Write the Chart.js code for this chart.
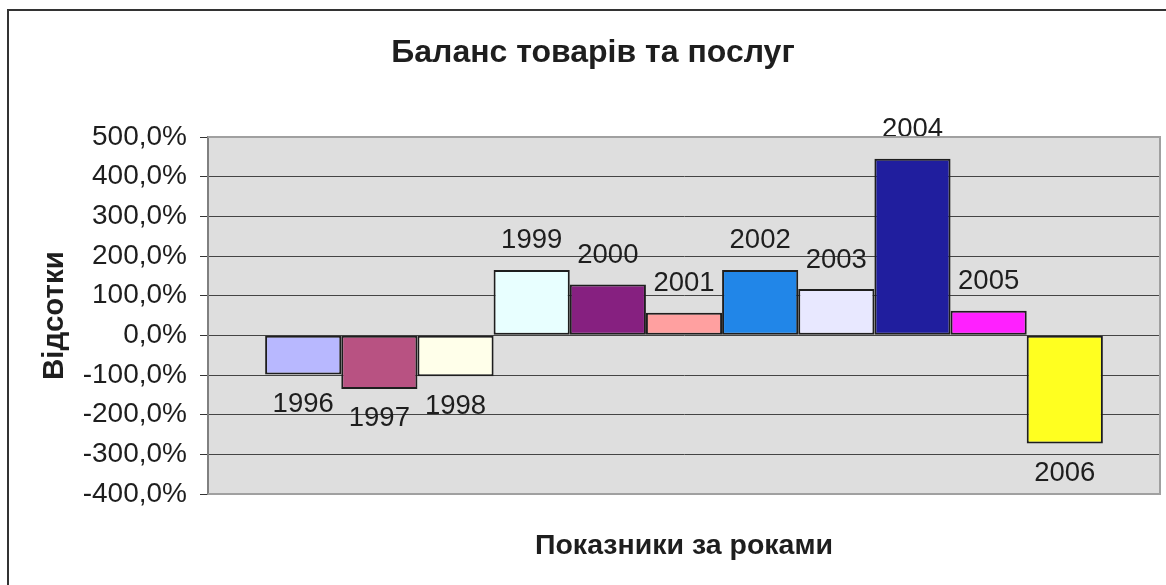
<!DOCTYPE html>
<html>
<head>
<meta charset="utf-8">
<script src="https://cdn.jsdelivr.net/npm/chart.js@4.4.1/dist/chart.umd.min.js"></script>
<style>
  html, body { margin: 0; padding: 0; background: #fff; }
  #wrap { width: 1166px; height: 585px; }
</style>
</head>
<body>
<div id="wrap"><canvas id="chart-balance" width="1166" height="585"></canvas></div>
<script>
// values (percent)
const years = ["1996", "1997", "1998", "1999", "2000", "2001", "2002", "2003", "2004", "2005", "2006"];
const balance = [-99, -135, -103, 165, 128, 57, 165, 117, 445, 62, -273];
const barColors = ["#b8b8ff", "#b85282", "#ffffea", "#e8ffff", "#862080", "#ffa0a0",
                   "#2186e8", "#e8e8ff", "#201e9e", "#ff20ff", "#ffff20"];
const yMin = -400;
const yMax = 500;
const yStep = 100;

const chartTitle = "Баланс товарів та послуг";
const xTitle = "Показники за роками";
const yTitle = "Відсотки";

const FONT = "'Liberation Sans', Arial, sans-serif";

const datasets = years.map((year, i) => ({
    label: year,
    data: [balance[i]],
    backgroundColor: barColors[i],
    borderColor: "#1e1e1e",
    borderWidth: 2,
    borderSkipped: false,
}));

// white page, outer frame, grey plot area, main title
const backdrop = {
    id: "backdrop",
    beforeDraw(chart) {
        const { ctx, chartArea: a } = chart;
        ctx.save();
        ctx.fillStyle = "#ffffff";
        ctx.fillRect(0, 0, chart.width, chart.height);
        ctx.strokeStyle = "#333333";
        ctx.lineWidth = 2;
        ctx.beginPath();
        ctx.moveTo(8, chart.height + 5);
        ctx.lineTo(8, 10);
        ctx.lineTo(chart.width + 5, 10);
        ctx.stroke();
        ctx.fillStyle = "#dedede";
        ctx.fillRect(a.left, a.top, a.right - a.left, a.bottom - a.top);
        ctx.fillStyle = "#1e1e1e";
        ctx.font = "bold 32px " + FONT;
        ctx.textAlign = "center";
        ctx.textBaseline = "middle";
        ctx.fillText(chartTitle, 593, 53);
        ctx.restore();
    },
    afterDraw(chart) {
        const { ctx, chartArea: a } = chart;
        ctx.save();
        ctx.strokeStyle = "#a0a0a0";
        ctx.lineWidth = 2;
        ctx.beginPath();
        ctx.moveTo(a.left, a.top);
        ctx.lineTo(a.right, a.top);
        ctx.lineTo(a.right, a.bottom);
        ctx.lineTo(a.left, a.bottom);
        ctx.stroke();
        ctx.restore();
    },
};

// year written past the end of each bar
const yearLabels = {
    id: "yearLabels",
    afterDatasetsDraw(chart) {
        const { ctx } = chart;
        ctx.save();
        ctx.fillStyle = "#1e1e1e";
        ctx.font = "27.5px " + FONT;
        ctx.textAlign = "center";
        ctx.textBaseline = "middle";
        chart.data.datasets.forEach((ds, i) => {
            const bar = chart.getDatasetMeta(i).data[0];
            const v = ds.data[0];
            const y = v >= 0 ? bar.y - 29 : bar.y + 30;
            ctx.fillText(ds.label, bar.x, y);
        });
        ctx.restore();
    },
};

new Chart(document.getElementById("chart-balance"), {
    type: "bar",
    data: { labels: [""], datasets },
    options: {
        responsive: false,
        animation: false,
        layout: { padding: { top: 137, right: 6, left: 0, bottom: 0 } },
        datasets: { bar: { categoryPercentage: 0.88, barPercentage: 1 } },
        plugins: { legend: { display: false }, tooltip: { enabled: false }, title: { display: false } },
        scales: {
            x: {
                grid: { display: false },
                border: { display: false },
                ticks: { display: false },
                title: {
                    display: true,
                    text: xTitle,
                    color: "#1e1e1e",
                    font: { family: FONT, size: 28.5, weight: "bold" },
                    padding: { top: 0, bottom: 22 },
                },
                afterFit(scale) { scale.height = 91; },
            },
            y: {
                min: yMin,
                max: yMax,
                ticks: {
                    stepSize: yStep,
                    color: "#1e1e1e",
                    padding: 13,
                    font: { family: FONT, size: 28 },
                    callback: (v) => v.toFixed(1).replace(".", ",") + "%",
                },
                grid: { color: "#444444", lineWidth: 1, tickLength: 8, tickColor: "#333333" },
                border: { display: true, color: "#808080", width: 2 },
                title: {
                    display: true,
                    text: yTitle,
                    color: "#1e1e1e",
                    font: { family: FONT, size: 29.5, weight: "bold" },
                    padding: { top: 37, bottom: 0 },
                },
                afterFit(scale) { scale.width = 208; },
            },
        },
    },
    plugins: [backdrop, yearLabels],
});
</script>
</body>
</html>
